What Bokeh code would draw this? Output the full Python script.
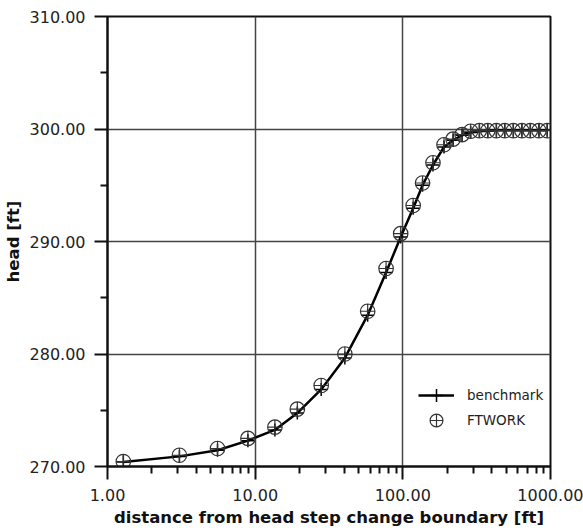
from bokeh.plotting import figure
from bokeh.models import (FixedTicker, PrintfTickFormatter, Legend, LegendItem,
                          Range1d)
from bokeh.embed import file_html
from bokeh.resources import INLINE

# distance from the head step change boundary [ft]
distance = [1.28, 3.07, 5.56, 8.93, 13.6, 19.3, 28.0, 40.5, 57.8, 77.0, 96.7,
            117.5, 136.0, 160.0, 190.0, 219.0, 252.0, 288.0, 330.0, 376.0,
            430.0, 490.0, 560.0, 640.0, 730.0, 835.0, 950.0]

# analytical benchmark head [ft]
benchmark = [270.40, 270.90, 271.45, 272.30, 273.25, 274.75, 276.85, 279.65,
             283.45, 287.25, 290.40, 292.95, 295.00, 296.80, 298.40, 299.00,
             299.45, 299.70, 299.80, 299.85, 299.88, 299.90, 299.90, 299.90,
             299.90, 299.90, 299.90]

# FTWORK simulated head [ft]
ftwork = [270.44, 271.00, 271.60, 272.50, 273.50, 275.10, 277.20, 280.00,
          283.80, 287.60, 290.70, 293.20, 295.20, 297.00, 298.60, 299.10,
          299.50, 299.80, 299.85, 299.85, 299.85, 299.85, 299.85, 299.85,
          299.85, 299.85, 299.85]

x_major = [1, 10, 100, 1000]
x_minor = [2, 3, 4, 5, 6, 7, 8, 9, 20, 30, 40, 50, 60, 70, 80, 90,
           200, 300, 400, 500, 600, 700, 800, 900]
y_major = [270, 280, 290, 300, 310]
y_minor = [275, 285, 295, 305]

FONT = "DejaVu Sans"
INK = "#222222"

p = figure(width=583, height=530, x_axis_type="log",
           x_range=Range1d(1, 1000), y_range=Range1d(270, 310),
           output_backend="svg", toolbar_location=None,
           min_border_left=103, min_border_right=33,
           min_border_top=16, min_border_bottom=64)
p.background_fill_color = "white"
p.border_fill_color = "white"
p.outline_line_color = "#111111"
p.outline_line_width = 2

for ax, major, minor in ((p.xaxis[0], x_major, x_minor), (p.yaxis[0], y_major, y_minor)):
    ax.ticker = FixedTicker(ticks=major, minor_ticks=minor)
    ax.formatter = PrintfTickFormatter(format="%.2f")
    ax.axis_line_color = "#111111"
    ax.axis_line_width = 2
    ax.major_tick_line_color = "#111111"
    ax.major_tick_line_width = 2
    ax.minor_tick_line_color = "#111111"
    ax.minor_tick_line_width = 2
    ax.major_tick_in = 0
    ax.major_tick_out = 13
    ax.minor_tick_in = 0
    ax.minor_tick_out = 7
    ax.major_label_text_font = FONT
    ax.major_label_text_font_size = "16px"
    ax.major_label_text_color = INK
    ax.major_label_standoff = 9
    ax.axis_label_text_font = FONT
    ax.axis_label_text_font_size = "16.5px"
    ax.axis_label_text_font_style = "bold"
    ax.axis_label_text_color = "#111111"
    ax.axis_label_standoff = 4

p.xaxis.axis_label = "distance from head step change boundary [ft]"
p.yaxis.axis_label = "head [ft]"

p.xgrid.ticker = FixedTicker(ticks=x_major)
p.ygrid.ticker = FixedTicker(ticks=y_major)
for g in (p.xgrid[0], p.ygrid[0]):
    g.grid_line_color = "#444444"
    g.grid_line_width = 1.5

# benchmark: solid curve with plus markers
bench_line = p.line(distance, benchmark, line_color="black", line_width=2.5,
                    line_join="round")
bench_pts = p.scatter(distance, benchmark, marker="cross", size=13,
                      line_color="black", line_width=1.5)

# FTWORK: open circles with a cross inside
ft_pts = p.scatter(distance, ftwork, marker="circle_cross", size=14.5,
                   line_color="#333333", line_width=1.2, fill_alpha=0)


def add_key(label, renderers, offset_y):
    # one legend entry per box, so the row pitch can be tighter than the glyph box
    key = Legend(items=[LegendItem(label=label, renderers=renderers)],
                 location=(311, offset_y))
    key.border_line_alpha = 0
    key.background_fill_alpha = 0
    key.padding = 0
    key.margin = 0
    key.glyph_width = 36
    key.glyph_height = 32
    key.label_height = 32
    key.label_standoff = 13
    key.label_text_font = FONT
    key.label_text_font_size = "13.5px"
    key.label_text_color = INK
    p.add_layout(key)


add_key("benchmark", [bench_line, bench_pts], 55)
add_key("FTWORK", [ft_pts], 30)

open("out.html", "w").write(file_html(p, INLINE))
